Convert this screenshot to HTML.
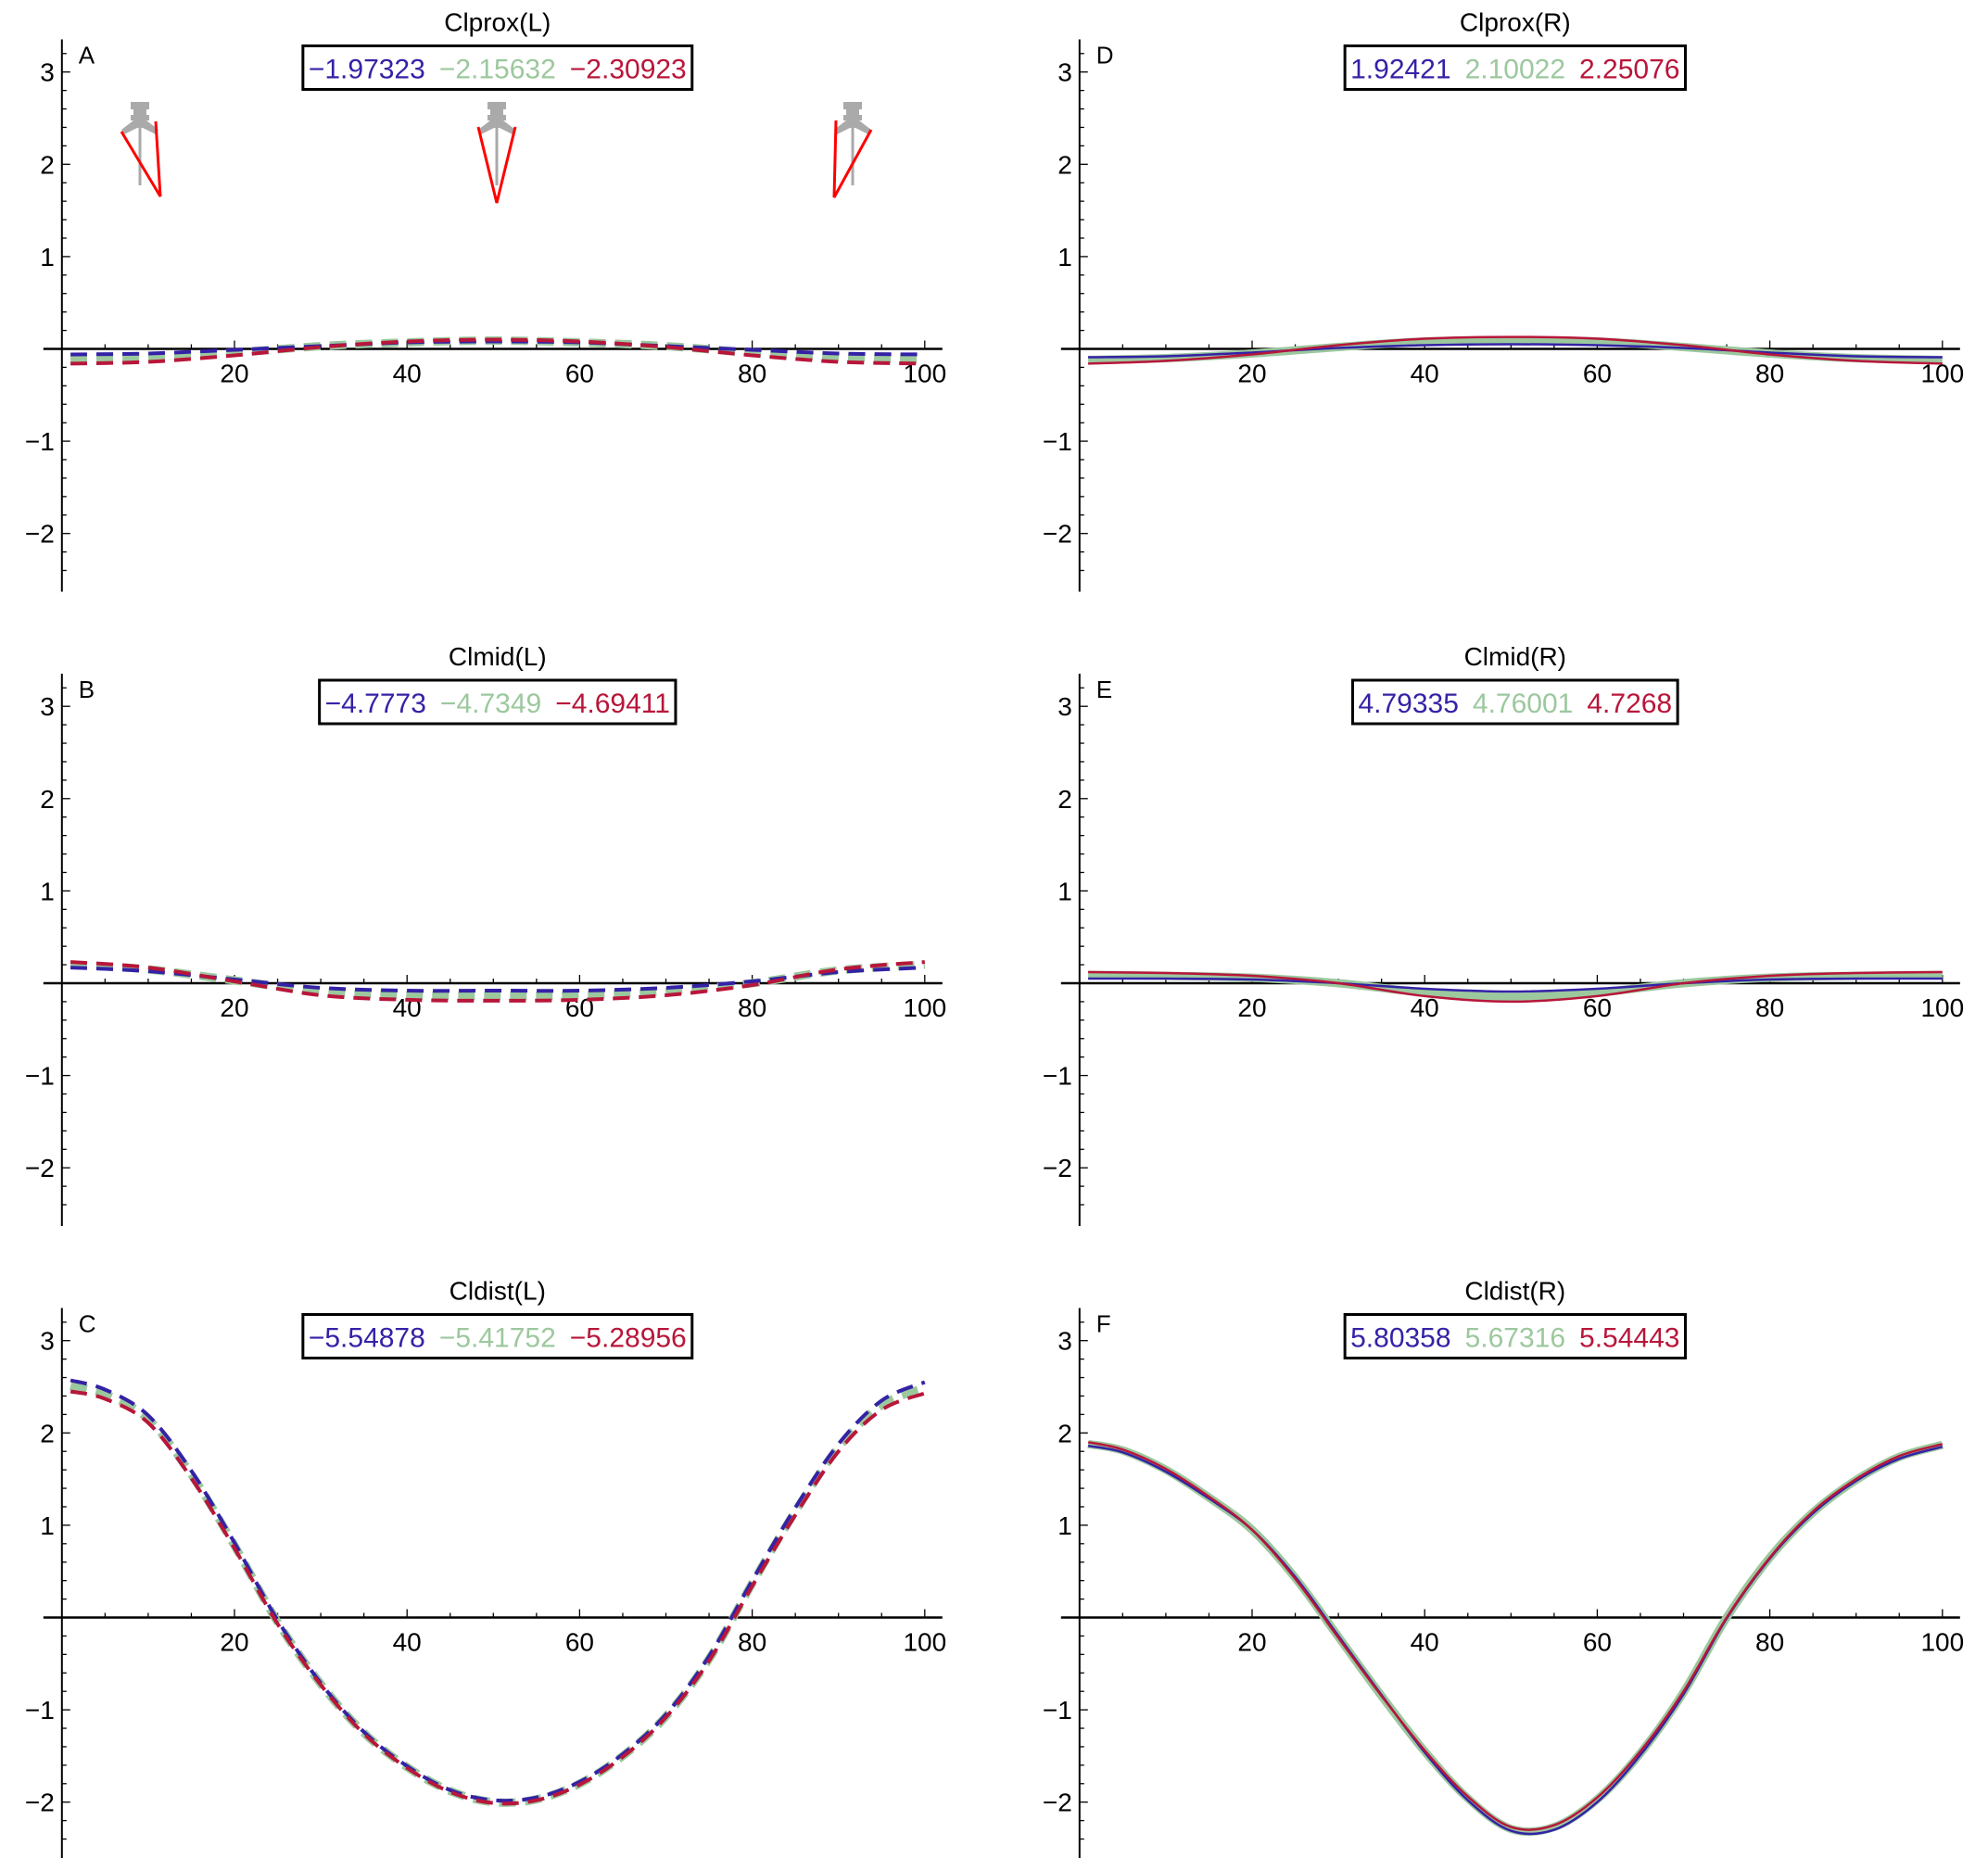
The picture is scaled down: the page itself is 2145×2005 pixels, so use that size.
<!DOCTYPE html>
<html><head><meta charset="utf-8">
<style>
html,body{margin:0;padding:0;background:#fff;}
svg{display:block;font-family:"Liberation Sans",Arial,sans-serif;}
</style></head>
<body>
<svg id="chart" width="2145" height="2005" viewBox="0 0 2145 2005" xmlns="http://www.w3.org/2000/svg"></svg>
<script>
// ---- data ----
const xCats = [0,10,20,30,40,50,60,70,80,90,100];
const xCats5 = [0,5,10,15,20,25,30,35,40,45,50,55,60,65,70,75,80,85,90,95,100];
const xTicks = [20,40,60,80,100];
const yTicks = [3,2,1,-1,-2];
const panelTitles = ["Clprox(L)","Clmid(L)","Cldist(L)","Clprox(R)","Clmid(R)","Cldist(R)"];
const panelLetters = ["A","B","C","D","E","F"];
const legendA = ["\u22121.97323","\u22122.15632","\u22122.30923"];
const legendB = ["\u22124.7773","\u22124.7349","\u22124.69411"];
const legendC = ["\u22125.54878","\u22125.41752","\u22125.28956"];
const legendD = ["1.92421","2.10022","2.25076"];
const legendE = ["4.79335","4.76001","4.7268"];
const legendF = ["5.80358","5.67316","5.54443"];
const aBlue  = [-0.08,-0.07,-0.03,0.01,0.05,0.06,0.05,0.01,-0.03,-0.07,-0.08];
const aGreen = [-0.11,-0.09,-0.04,0.03,0.07,0.09,0.07,0.03,-0.04,-0.09,-0.11];
const aRed   = [-0.14,-0.12,-0.05,0.04,0.10,0.12,0.10,0.04,-0.05,-0.12,-0.14];
const bBlue  = [0.15,0.11,0.02,-0.07,-0.10,-0.10,-0.10,-0.07,0.0,0.10,0.15];
const bGreen = [0.20,0.15,0.03,-0.09,-0.13,-0.14,-0.13,-0.09,0.0,0.14,0.20];
const bRed   = [0.25,0.19,0.04,-0.11,-0.16,-0.17,-0.16,-0.11,0.0,0.17,0.25];
const cBlue  = [2.55,2.45,2.17,1.57,0.79,-0.05,-0.73,-1.26,-1.63,-1.89,-2.0,-1.97,-1.8,-1.5,-1.07,-0.44,0.38,1.17,1.86,2.33,2.53];
const cGreen = [2.51,2.42,2.15,1.55,0.78,-0.05,-0.72,-1.25,-1.62,-1.88,-2.0,-1.97,-1.8,-1.5,-1.07,-0.45,0.37,1.15,1.84,2.30,2.49];
const cRed   = [2.47,2.39,2.13,1.53,0.77,-0.05,-0.71,-1.24,-1.61,-1.87,-1.99,-1.96,-1.79,-1.49,-1.06,-0.45,0.36,1.13,1.82,2.27,2.45];
const dBlue  = [-0.09,-0.08,-0.04,0.01,0.04,0.05,0.04,0.01,-0.04,-0.08,-0.09];
const dGreen = [-0.12,-0.10,-0.05,0.02,0.08,0.09,0.08,0.02,-0.05,-0.10,-0.12];
const dRed   = [-0.16,-0.13,-0.06,0.04,0.11,0.13,0.11,0.04,-0.06,-0.13,-0.16];
const eBlue  = [0.05,0.05,0.04,0.0,-0.06,-0.09,-0.06,0.0,0.04,0.05,0.05];
const eGreen = [0.09,0.08,0.06,0.0,-0.10,-0.15,-0.10,0.0,0.06,0.08,0.09];
const eRed   = [0.12,0.11,0.08,0.0,-0.14,-0.20,-0.14,0.0,0.08,0.11,0.12];
const fBlue  = [1.86,1.79,1.58,1.29,0.95,0.44,-0.2,-0.84,-1.46,-1.98,-2.31,-2.30,-2.0,-1.49,-0.83,-0.01,0.64,1.13,1.48,1.72,1.85];
const fGreen = [1.88,1.81,1.60,1.30,0.95,0.43,-0.21,-0.85,-1.45,-1.96,-2.29,-2.27,-1.97,-1.47,-0.81,0.0,0.65,1.14,1.49,1.74,1.87];
const fRed   = [1.90,1.82,1.61,1.31,0.95,0.42,-0.22,-0.85,-1.44,-1.94,-2.27,-2.25,-1.95,-1.45,-0.80,0.0,0.65,1.15,1.50,1.75,1.88];

const panels = [
 {col:0,row:0,legend:legendA,xs:xCats,series:[aBlue,aGreen,aRed],dashed:true},
 {col:0,row:1,legend:legendB,xs:xCats,series:[bBlue,bGreen,bRed],dashed:true},
 {col:0,row:2,legend:legendC,xs:xCats5,series:[cBlue,cGreen,cRed],dashed:true},
 {col:1,row:0,legend:legendD,xs:xCats,series:[dBlue,dGreen,dRed],dashed:false},
 {col:1,row:1,legend:legendE,xs:xCats,series:[eBlue,eGreen,eRed],dashed:false},
 {col:1,row:2,legend:legendF,xs:xCats5,series:[fBlue,fGreen,fRed],dashed:false}
];
const COLORS = ["#3422a6","#9cc89e","#b8163a"];
const NS = "http://www.w3.org/2000/svg";
const svg = document.getElementById('chart');
function mk(tag, attrs, parent){
  const e = document.createElementNS(NS, tag);
  for (const k in attrs) e.setAttribute(k, attrs[k]);
  (parent||svg).appendChild(e);
  return e;
}
function smoothPath(pts){
  let d = "M"+pts[0][0].toFixed(1)+","+pts[0][1].toFixed(1);
  for (let i=0;i<pts.length-1;i++){
    const p0=pts[Math.max(0,i-1)],p1=pts[i],p2=pts[i+1],p3=pts[Math.min(pts.length-1,i+2)];
    const c1=[p1[0]+(p2[0]-p0[0])/6,p1[1]+(p2[1]-p0[1])/6];
    const c2=[p2[0]-(p3[0]-p1[0])/6,p2[1]-(p3[1]-p1[1])/6];
    d+=" C"+c1[0].toFixed(1)+","+c1[1].toFixed(1)+" "+c2[0].toFixed(1)+","+c2[1].toFixed(1)+" "+p2[0].toFixed(1)+","+p2[1].toFixed(1);
  }
  return d;
}

panels.forEach((p, idx) => {
  const ox = 66.8 + p.col*1098;
  const oy = 376.5 + p.row*684.5;
  const xs = v => ox + v*9.31;
  const ys = v => oy - v*99.6;
  const g = mk('g', {});
  
  

  const yAx = mk('line',{x1:ox,y1:oy-334,x2:ox,y2:oy+262,stroke:'#000','stroke-width':2},g);
  
  
  const xAx = mk('line',{x1:ox-20,y1:oy,x2:ox+950,y2:oy,stroke:'#000','stroke-width':2.5},g);
  
  
  for (let k=-12;k<=16;k++){
    const v=k*0.2; const major = (k%5===0);
    mk('line',{x1:ox,y1:ys(v),x2:ox+(major?9:5),y2:ys(v),stroke:'#000','stroke-width':1.3},g);
  }
  yTicks.forEach(t=>{
    const tx = mk('text',{x:ox-8,y:ys(t)+10,'text-anchor':'end','font-size':28},g);
    tx.textContent = t<0 ? "\u2212"+Math.abs(t) : String(t);
    
    
  });
  for (let v=5; v<=100; v+=5){
    const major = (v%20===0);
    mk('line',{x1:xs(v),y1:oy,x2:xs(v),y2:oy-(major?9:5),stroke:'#000','stroke-width':1.3},g);
  }
  xTicks.forEach(t=>{
    const tx = mk('text',{x:xs(t),y:oy+36,'text-anchor':'middle','font-size':28},g);
    tx.textContent = String(t);
    
    
  });

  const ti = mk('text',{x:ox+470,y:oy-343,'text-anchor':'middle','font-size':28},g);
  ti.textContent = panelTitles[idx];
  
  
  const le = mk('text',{x:ox+18,y:oy-308,'font-size':26},g);
  le.textContent = panelLetters[idx];
  
  

  const lg = mk('g',{},g);
  
  
  const lt = mk('text',{x:ox+470,y:oy-292,'text-anchor':'middle','font-size':30},lg);
  p.legend.forEach((s,i)=>{
    const ts = mk('tspan',{fill:COLORS[i]},lt);
    ts.textContent = (i>0?"\u2002":"")+s;
    
    
  });
  const bb = lt.getBBox();
  const rect = mk('rect',{x:bb.x-6,y:oy-327,width:bb.width+12,height:47,fill:'none',stroke:'#000','stroke-width':3},lg);
  
  

  const order = [1,0,2];
  order.forEach(si=>{
    const vals = p.series[si];
    const pts = p.xs.map((x,i)=>[xs(Math.max(x,1)), ys(vals[i])]);
    const attrs = {d:smoothPath(pts),fill:'none',stroke:COLORS[si],'stroke-linecap':'butt'};
    if (p.dashed){
      attrs['stroke-width'] = si===1 ? 9 : 4;
      attrs['stroke-dasharray'] = '18 10';
      if (si===0) attrs['transform']='translate(0,-2)';
      if (si===2) attrs['transform']='translate(0,2)';
    } else {
      attrs['stroke-width'] = si===1 ? 9 : 2.5;
    }
    const path = mk('path',attrs,g);
    
    
  });
});

// pipette icons in panel A
const iconX = [151, 536, 920];
const tris = [
  [[131,142],[173,212],[168,131]],
  [[516,137],[536,219],[556,137]],
  [[902,130],[900,213],[940,140]]
];
iconX.forEach((cx,i)=>{
  const ig = mk('g',{});
  
  
  mk('rect',{x:cx-10,y:110,width:20,height:8,fill:'#aaa'},ig);
  mk('rect',{x:cx-7,y:118,width:14,height:6,fill:'#aaa'},ig);
  mk('rect',{x:cx-10,y:124,width:20,height:6,fill:'#aaa'},ig);
  mk('path',{d:`M${cx-7},${130} L${cx+7},${130} L${cx+20},${140} L${cx+17},${145} L${cx+3},${138} L${cx-3},${138} L${cx-17},${145} L${cx-20},${140} Z`,fill:'#aaa'},ig);
  mk('line',{x1:cx,y1:135,x2:cx,y2:200,stroke:'#aaa','stroke-width':3},ig);
  const t = tris[i];
  mk('polyline',{points:t.map(q=>q.join(',')).join(' '),fill:'none',stroke:'#f00','stroke-width':3},ig);
});
</script>
</body></html>
